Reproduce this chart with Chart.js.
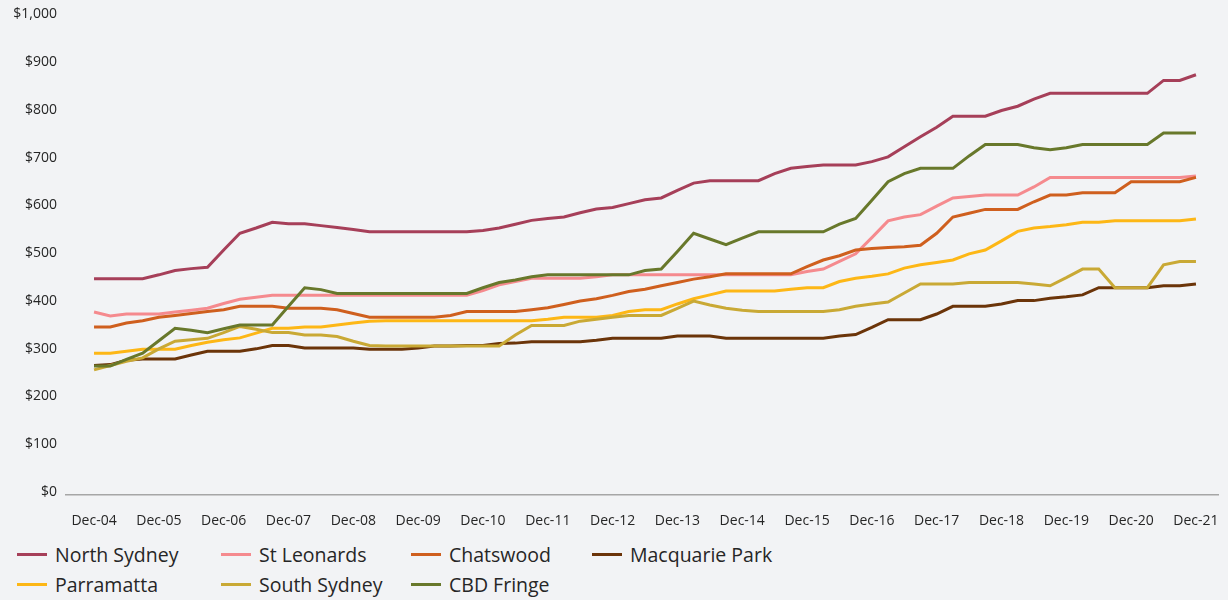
<!DOCTYPE html>
<html>
<head>
<meta charset="utf-8">
<title>Office rents by precinct</title>
<script src="https://cdn.jsdelivr.net/npm/chart.js@4.4.1/dist/chart.umd.min.js"></script>
<style>
  html, body { margin: 0; padding: 0; background: #f2f3f5; }
  #wrap { position: relative; width: 1228px; height: 600px; overflow: hidden; }
  #rentChart { position: absolute; left: 0; top: 0; }
  #legend {
    position: absolute; left: 17px; top: 543px;
    display: grid; grid-template-columns: 204px 190px 181px auto;
    row-gap: 7px;
    font-family: "Open Sans", sans-serif; font-size: 19.5px; color: #262626;
  }
  #legend .item { display: flex; align-items: center; height: 23px; white-space: nowrap; }
  #legend .swatch { width: 30px; height: 3px; margin-right: 8px; }
</style>
</head>
<body>
<div id="wrap">
  <canvas id="rentChart" width="1228" height="540"></canvas>
  <div id="legend"></div>
</div>
<script>
// one label per December, every fourth quarter
var yearLabels = ['Dec-04', 'Dec-05', 'Dec-06', 'Dec-07', 'Dec-08', 'Dec-09', 'Dec-10', 'Dec-11', 'Dec-12',
  'Dec-13', 'Dec-14', 'Dec-15', 'Dec-16', 'Dec-17', 'Dec-18', 'Dec-19', 'Dec-20', 'Dec-21'];

// quarterly net face rents, $/sqm, Dec-04 .. Dec-21 (69 quarters)
var northSydney = [453, 453, 453, 453, 461, 470, 474, 477, 513, 548, 559, 571, 568, 568, 564, 560, 556, 551,
  551, 551, 551, 551, 551, 551, 554, 559, 567, 575, 579, 582, 591, 599, 602, 610, 618, 622, 638, 653,
  658, 658, 658, 658, 673, 684, 688, 691, 691, 691, 698, 708, 729, 750, 770, 793, 793, 793, 805, 814,
  829, 841, 841, 841, 841, 841, 841, 841, 868, 868, 880];
var stLeonards = [383, 375, 379, 379, 379, 383, 387, 391, 401, 410, 414, 418, 418, 418, 418, 418, 418, 418,
  418, 418, 418, 418, 418, 418, 428, 440, 447, 454, 454, 454, 454, 457, 461, 461, 461, 461, 461, 461,
  461, 461, 461, 461, 461, 461, 468, 473, 489, 505, 539, 574, 582, 587, 605, 622, 625, 628, 628, 628,
  645, 665, 665, 665, 665, 665, 665, 665, 665, 665, 668];
var chatswood = [352, 352, 360, 365, 372, 376, 380, 384, 388, 395, 395, 395, 391, 391, 391, 388, 380, 372,
  372, 372, 372, 372, 376, 384, 384, 384, 384, 388, 392, 399, 406, 411, 418, 426, 431, 438, 445, 452,
  457, 463, 463, 463, 463, 463, 478, 492, 501, 513, 516, 518, 520, 523, 548, 582, 590, 598, 598, 598,
  614, 628, 628, 633, 633, 633, 656, 656, 656, 656, 665];
var macquariePark = [271, 273, 282, 285, 285, 285, 293, 301, 301, 301, 306, 313, 313, 308, 308, 308, 308, 305,
  305, 305, 308, 312, 312, 313, 313, 317, 318, 321, 321, 321, 321, 324, 328, 328, 328, 328, 333, 333,
  333, 328, 328, 328, 328, 328, 328, 328, 333, 336, 351, 367, 367, 367, 379, 395, 395, 395, 400, 407,
  407, 412, 415, 419, 434, 434, 434, 434, 438, 438, 442];
var parramatta = [297, 297, 301, 305, 305, 305, 313, 320, 325, 329, 339, 349, 349, 352, 352, 356, 360, 364,
  365, 365, 365, 365, 365, 365, 365, 365, 365, 365, 368, 372, 372, 372, 376, 384, 388, 388, 400, 411,
  419, 427, 427, 427, 427, 431, 434, 434, 447, 454, 458, 463, 475, 482, 487, 492, 505, 513, 532, 552,
  559, 562, 566, 571, 571, 574, 574, 574, 574, 574, 578];
var southSydney = [262, 271, 280, 287, 306, 322, 325, 328, 340, 353, 347, 340, 340, 335, 335, 332, 322, 313,
  312, 312, 312, 312, 312, 312, 312, 312, 335, 355, 355, 355, 364, 368, 372, 376, 376, 376, 391, 406,
  398, 391, 387, 384, 384, 384, 384, 384, 388, 395, 400, 404, 423, 442, 442, 442, 445, 445, 445, 445,
  442, 438, 455, 473, 473, 434, 434, 434, 482, 489, 489];
var cbdFringe = [270, 270, 284, 297, 323, 349, 345, 340, 348, 356, 356, 356, 395, 434, 430, 422, 422, 422,
  422, 422, 422, 422, 422, 422, 434, 445, 450, 457, 461, 461, 461, 461, 461, 461, 470, 473, 510, 548,
  536, 524, 538, 551, 551, 551, 551, 551, 567, 579, 617, 656, 673, 684, 684, 684, 710, 734, 734, 734,
  727, 723, 727, 734, 734, 734, 734, 734, 758, 758, 758];

var seriesNames = ['North Sydney', 'St Leonards', 'Chatswood', 'Macquarie Park', 'Parramatta', 'South Sydney', 'CBD Fringe'];
var seriesValues = [northSydney, stLeonards, chatswood, macquariePark, parramatta, southSydney, cbdFringe];
var seriesColors = ['#a63f59', '#f58a8e', '#cf5f1e', '#6b3409', '#fdb716', '#c9a935', '#68782b'];

var FONT = '"Open Sans", sans-serif';
var TEXT = '#262626';

function toPoints(arr) {
  return arr.map(function (v, i) { return { x: i, y: v }; });
}

var datasets = seriesValues.map(function (vals, k) {
  return {
    label: seriesNames[k],
    data: toPoints(vals),
    borderColor: seriesColors[k],
    backgroundColor: seriesColors[k],
    borderWidth: 3,
    pointRadius: 0,
    tension: 0,
    fill: false,
    order: seriesNames.length - k   // later series drawn on top
  };
});

var chart = new Chart(document.getElementById('rentChart'), {
  type: 'line',
  data: { datasets: datasets },
  options: {
    responsive: false,
    animation: false,
    devicePixelRatio: 1,
    layout: { padding: { left: 0, right: 10, top: 16, bottom: 0 } },
    plugins: { legend: { display: false }, tooltip: { enabled: false } },
    scales: {
      x: {
        type: 'linear',
        min: -1.73,
        max: 69.36,
        grid: { display: false, drawTicks: false },
        border: { display: true, color: '#a6a6a6', width: 1.5 },
        afterBuildTicks: function (scale) {
          scale.ticks = yearLabels.map(function (l, i) { return { value: i * 4 }; });
        },
        afterFit: function (scale) {
          // keep the plot edges fixed; the end labels sit inside the layout padding
          scale.height = 45;
          scale.paddingLeft = 0;
          scale.paddingRight = 0;
        },
        ticks: {
          autoSkip: false,
          maxRotation: 0,
          padding: 18,
          color: TEXT,
          font: { family: FONT, size: 14 },
          callback: function (v) { return yearLabels[Math.round(v / 4)]; }
        }
      },
      y: {
        min: 0,
        max: 1000,
        grid: { display: false, drawTicks: false },
        border: { display: false },
        afterFit: function (scale) { scale.width = 66; },
        ticks: {
          stepSize: 100,
          padding: 9,
          labelOffset: -3,
          color: TEXT,
          font: { family: FONT, size: 14 },
          callback: function (v) { return '$' + v.toLocaleString('en-US'); }
        }
      }
    }
  }
});

// legend in two rows, built from the chart's datasets
var legendEl = document.getElementById('legend');
seriesNames.forEach(function (name, k) {
  var ds = chart.data.datasets[k];
  var item = document.createElement('div');
  item.className = 'item';
  var sw = document.createElement('span');
  sw.className = 'swatch';
  sw.style.background = ds.borderColor;
  var txt = document.createElement('span');
  txt.textContent = ds.label;
  item.appendChild(sw);
  item.appendChild(txt);
  legendEl.appendChild(item);
});
</script>
</body>
</html>
